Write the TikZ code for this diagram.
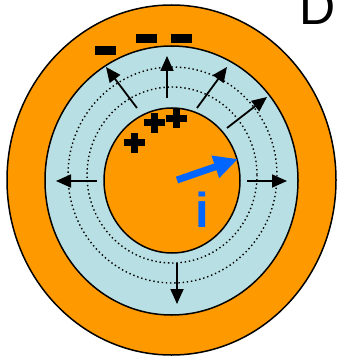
\documentclass[tikz,border=0pt]{standalone}
\usepackage{fontspec}
\setmainfont{Liberation Sans}
\usetikzlibrary{arrows.meta}
\definecolor{orng}{HTML}{FF9900}
\definecolor{lblue}{HTML}{B8DFE3}
\definecolor{iblue}{HTML}{0066FF}
\begin{document}
\begin{tikzpicture}[x=1pt,y=-1pt,
  ring/.style={draw=black,line width=1.5pt},
  dots/.style={line width=1.4pt,dash pattern=on 1.4pt off 2.8pt},
  fieldarrow/.style={line width=1.8pt,-{Triangle[length=15pt,width=13pt]}},
  charge/.style={fill=black},
  cornerfont/.style={font=\fontsize{50}{50}\selectfont,inner sep=0pt}]
\useasboundingbox (0,0) rectangle (338,358);
\clip (0,0) rectangle (338,358);
% rings
\draw[ring,fill=orng] (171.5,180) ellipse [x radius=164.5,y radius=175];
\draw[ring,fill=lblue] (171.5,180.5) ellipse [x radius=126.5,y radius=134.5];
\draw[dots] (172.5,175) ellipse [x radius=104.5,y radius=108];
\draw[dots] (172,175) ellipse [x radius=85,y radius=88];
\draw[ring,fill=orng] (172,180.5) ellipse [x radius=68,y radius=72.5];
% field arrows
\draw[fieldarrow] (167,98) -- (167,56);
\draw[fieldarrow] (137,108) -- (106,67);
\draw[fieldarrow] (197,108) -- (227,67);
\draw[fieldarrow] (227,128) -- (267,97);
\draw[fieldarrow] (97,181) -- (56,181);
\draw[fieldarrow] (247,181) -- (287,181);
\draw[fieldarrow] (177,263) -- (177,304);
% minus charges
\fill[charge] (95,46) rectangle (116,55);
\fill[charge] (136,34) rectangle (157,43);
\fill[charge] (171,34) rectangle (192,43);
% plus charges
\foreach \cx/\cy in {134/143, 154.5/123, 176.5/118.5}{
  \fill[charge] (\cx-10.5,\cy-3.5) rectangle (\cx+10.5,\cy+3.5);
  \fill[charge] (\cx-3.5,\cy-10) rectangle (\cx+3.5,\cy+10);
}
% current arrow
\draw[iblue,line width=7pt,-{Triangle[length=24pt,width=22pt]}] (177,180) -- (238,159);
\node[text=iblue,inner sep=0pt,anchor=base,font=\fontsize{49}{49}\selectfont\bfseries] (ilabel) at (202.5,227) {i};
\node[cornerfont,anchor=base west] (dlabel) at (299,25) {D};
\end{tikzpicture}
\end{document}
